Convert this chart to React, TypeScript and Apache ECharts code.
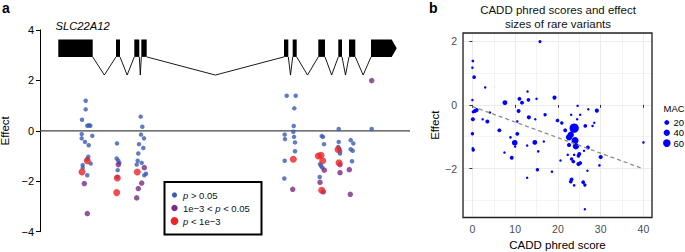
import React, { useEffect, useRef } from "react";
import * as echarts from "echarts";

// ---------- Panel a data ----------
const geneName = "SLC22A12";
// exon spans along the track (last exon drawn as arrow)
const exonSpans: number[][] = [
  [58.3, 92.7], [116, 120], [134.3, 139.3], [141.3, 146.7], [284, 288.3],
  [292.7, 296.7], [318.3, 325], [338.3, 342], [349, 355.3], [371, 396.7],
];
const exonTop = 3.62;
const exonBottom = 2.93;
const intronApex = 2.21;
const arrowLen = 5;
const baselineEffect = 0;

const pHigh: number[][] = [ // p > 0.05
  [85.7, 1.19], [85.7, 0.85], [82, 0.44], [87.3, 0.2], [89, 0.22], [90.3, 0.2],
  [81.7, -0.13], [92.3, -0.2], [81.7, -0.3], [85, -0.44], [88.7, -0.57],
  [88.3, -1.03], [87.3, -1.13], [82.7, -1.36], [82.7, -1.47], [90.7, -1.3], [87.3, -1.76],
  [117, -0.5], [116.7, -1.1], [118.3, -1.19], [119.3, -1.27], [117.7, -1.56], [117.3, -1.83],
  [140.7, 0.56], [142.3, 0.16], [141, -0.15], [144, -0.3], [139, -0.53], [143.3, -0.68],
  [138.3, -0.9], [137.7, -1.19], [141.7, -1.27], [136.7, -1.34], [146, -1.7], [144.3, -1.76],
  [286.7, 1.39], [295.7, 1.39], [294.3, 0.89], [293.7, 0.19], [293.3, -0.04], [284.7, -0.15],
  [285, -0.33], [294, -0.24], [295, -0.46], [295, -0.81], [284.7, -1.19], [284.3, -1.89],
  [321.7, -0.21], [323, -0.24], [324, -0.53], [320, -1.32], [321, -1.39], [322.3, -1.46], [319.7, -1.83],
  [338.7, 0.07], [338.7, -0.44], [338.3, -0.64], [339.3, -0.73], [340, -0.81], [340, -0.9],
  [350.7, -0.37], [353.3, -0.5], [350.7, -0.73], [352.7, -0.79], [352, -1.21],
  [371.7, 0.07],
];
const pMid: number[][] = [ // 1e-3 < p < 0.05
  [84.3, -2.09], [87.3, -3.28], [118.3, -1.34], [144.3, -1.46], [141.7, -2.07],
  [138.3, -2.29], [136.7, -2.66], [292.7, -2.32], [324.3, -1.56], [320, -2.04],
  [323.3, -2.42], [340, -1.34], [340, -1.66], [349.3, -1.54], [350.3, -2.52], [371.7, 1.99],
];
const pLow: number[][] = [ // p < 1e-3
  [87.3, -1.19], [82, -1.63], [117.3, -1.87], [116.7, -2.45], [137.3, -1.63],
  [293.3, -1.13], [318.3, -1.0], [321, -0.97], [322.7, -1.19], [321.7, -2.36],
  [338, -0.74], [339, -1.27],
];

// ---------- Panel b data: [CADD phred, effect, MAC] ----------
const caddVariants: number[][] = [
  [15.8, 1.99, 6], [0.1, 1.38, 4], [0.0, 1.17, 3], [0.4, 0.87, 10], [3.0, 0.55, 3],
  [12.9, 0.42, 3], [0.0, 0.15, 3], [11.0, 0.19, 12], [11.6, 0.07, 12], [13.1, 0.16, 10],
  [15.0, 0.19, 3], [19.2, 0.23, 14], [7.6, 0.07, 20], [0.6, -0.19, 14], [1.0, -0.16, 12],
  [0.2, -0.22, 6], [4.1, -0.24, 3], [10.8, -0.19, 12], [0.1, -0.45, 12], [2.4, -0.45, 3],
  [3.5, -0.52, 12], [10.5, -0.52, 3], [13.2, -0.39, 14], [14.7, -0.45, 3], [17.0, -0.31, 8],
  [19.9, -0.49, 10], [20.9, -0.57, 8], [6.3, -0.8, 12], [0.0, -0.91, 8], [10.5, -0.91, 12],
  [8.9, -1.02, 4], [9.9, -1.19, 30], [10.0, -1.31, 3], [0.1, -1.37, 4], [0.2, -1.42, 8],
  [12.8, -1.28, 3], [14.6, -1.18, 20], [16.7, -1.15, 3], [7.5, -1.5, 3], [15.4, -1.46, 4],
  [9.2, -1.66, 12], [15.2, -2.04, 8], [18.6, -2.1, 3], [12.8, -2.29, 3], [20.6, -1.75, 3],
  [24.6, -0.03, 3], [27.1, -0.14, 3], [29.1, -0.18, 14], [23.1, -0.31, 3], [25.2, -0.31, 3],
  [24.5, -0.45, 3], [28.1, -0.66, 3], [28.5, -0.56, 3], [26.4, -0.66, 10], [23.8, -0.73, 95],
  [21.7, -0.8, 12], [23.0, -0.94, 40], [22.6, -1.02, 40], [24.0, -1.12, 50], [22.6, -1.26, 14],
  [24.2, -1.3, 40], [27.0, -1.34, 12], [26.1, -1.44, 3], [25.0, -1.54, 12], [24.8, -1.6, 10],
  [23.8, -1.57, 3], [22.3, -1.57, 3], [30.0, -1.64, 14], [23.2, -1.7, 8], [23.6, -1.78, 10],
  [24.8, -1.86, 14], [25.2, -1.83, 12], [29.7, -1.9, 4], [26.9, -2.07, 3], [23.2, -2.34, 10],
  [23.0, -2.41, 10], [23.8, -2.53, 4], [25.9, -2.43, 10], [26.3, -2.52, 8], [26.3, -3.28, 3],
  [40.0, -1.18, 3],
];
const regressionIntercept = -0.05;
const regressionSlope = -0.049;
const regressionRange = [0, 40];
const macLegend = [20, 40, 60];

const FONT = "'Liberation Sans', Arial, Helvetica, sans-serif";
const macSize = (m: number) => 1 + 0.85 * Math.sqrt(m);
const minus = (v: number) => String(v).replace("-", "\u2212");

export default function App() {
  const ref = useRef<HTMLDivElement>(null);
  useEffect(() => {
    document.body.style.margin = "0";
    const chart = echarts.init(ref.current!, undefined, { renderer: "svg" });
    const introns = exonSpans.slice(0, -1).map((e, i) => [e[1], exonSpans[i + 1][0]]);
    const exonData = exonSpans.map((e, i) => [e[0], e[1], i === exonSpans.length - 1 ? 1 : 0]);
    const regLine = regressionRange.map((x) => [x, regressionIntercept + regressionSlope * x]);

    const macGraphics: any[] = [
      { type: "text", x: 663.5, y: 108.5, style: { text: "MAC", fontSize: 9.5, fontFamily: FONT, fill: "#000", verticalAlign: "middle" } },
    ];
    macLegend.forEach((m, i) => {
      const cy = 122.5 + i * 10.3;
      macGraphics.push({ type: "circle", shape: { cx: 666.8, cy, r: macSize(m) / 2 }, style: { fill: "#0000ff" } });
      macGraphics.push({ type: "text", x: 673.5, y: cy, style: { text: String(m), fontSize: 9.5, fontFamily: FONT, fill: "#000", verticalAlign: "middle" } });
    });

    const legendRows = [
      { color: "#3b5bb5", r: 2.6, text: "{i|p} > 0.05" },
      { color: "#7b2a85", r: 3.2, text: "1e\u22123 < {i|p} < 0.05" },
      { color: "#ee2428", r: 3.9, text: "{i|p} < 1e\u22123" },
    ];
    const legendGraphics: any[] = [
      { type: "rect", shape: { x: 164.5, y: 182, width: 97, height: 52.5 }, style: { fill: "#fff", stroke: "#000", lineWidth: 2 }, z: 10 },
    ];
    legendRows.forEach((row, i) => {
      const cy = 195 + i * 13;
      legendGraphics.push({ type: "circle", shape: { cx: 174.5, cy, r: row.r }, style: { fill: row.color }, z: 11 });
      legendGraphics.push({
        type: "text", x: 183, y: cy, z: 11,
        style: { text: row.text, fontSize: 9.5, fontFamily: FONT, fill: "#111", verticalAlign: "middle", rich: { i: { fontStyle: "italic", fontSize: 9.5, fontFamily: FONT } } },
      });
    });

    chart.setOption({
      animation: false,
      textStyle: { fontFamily: FONT },
      grid: [
        { left: 40, top: 29.9, width: 370, height: 201.8, outerBoundsMode: "none", containLabel: false },
        { left: 463, top: 33, width: 189, height: 184.5, show: true, borderColor: "#222", borderWidth: 1.3, backgroundColor: "transparent", z: 3, outerBoundsMode: "none", containLabel: false },
      ],
      xAxis: [
        { type: "value", gridIndex: 0, min: 40, max: 410, show: false },
        {
          type: "value", gridIndex: 1, min: -2.2, max: 42, splitNumber: 4,
          name: "CADD phred score", nameLocation: "middle", nameGap: 21,
          nameTextStyle: { fontSize: 11.5, color: "#000", fontFamily: FONT },
          axisLine: { show: false },
          axisTick: { show: true, length: 3, lineStyle: { color: "#333" } },
          axisLabel: { fontSize: 10.5, color: "#4d4d4d", margin: 6, showMinLabel: false, showMaxLabel: false, fontFamily: FONT },
          splitLine: { show: true, lineStyle: { color: "#ebebeb", width: 1 } },
          minorSplitLine: { show: true, lineStyle: { color: "#f0f0f0", width: 0.8 } },
          minorTick: { show: false, splitNumber: 2 },
        },
      ],
      yAxis: [
        {
          type: "value", gridIndex: 0, min: -4, max: 4, interval: 2,
          name: "Effect", nameLocation: "middle", nameGap: 28,
          nameTextStyle: { fontSize: 11.5, color: "#000", fontFamily: FONT },
          axisLine: { show: true, lineStyle: { color: "#000", width: 1 } },
          axisTick: { show: true, length: 4, lineStyle: { color: "#000" } },
          axisLabel: { fontSize: 11, color: "#000", margin: 6, formatter: (v: number) => minus(v), fontFamily: FONT },
          splitLine: { show: false },
        },
        {
          type: "value", gridIndex: 1, min: -3.54, max: 2.26, splitNumber: 3,
          name: "Effect", nameLocation: "middle", nameGap: 21,
          nameTextStyle: { fontSize: 11.5, color: "#000", fontFamily: FONT },
          axisLine: { show: false },
          axisTick: { show: true, length: 3, lineStyle: { color: "#333" } },
          axisLabel: { fontSize: 10.5, color: "#4d4d4d", margin: 6, showMinLabel: false, showMaxLabel: false, formatter: (v: number) => minus(v), fontFamily: FONT },
          splitLine: { show: true, lineStyle: { color: "#ebebeb", width: 1 } },
          minorSplitLine: { show: true, lineStyle: { color: "#f0f0f0", width: 0.8 } },
          minorTick: { show: false, splitNumber: 2 },
        },
      ],
      series: [
        {
          type: "line", xAxisIndex: 0, yAxisIndex: 0, symbol: "none", silent: true,
          data: [[40, baselineEffect], [410, baselineEffect]],
          lineStyle: { color: "#444", width: 1.2 }, z: 1,
        },
        {
          type: "custom", xAxisIndex: 0, yAxisIndex: 0, clip: false, silent: true,
          data: introns,
          renderItem: (_p: any, api: any) => {
            const a = api.coord([api.value(0), exonBottom]);
            const m = api.coord([(api.value(0) + api.value(1)) / 2, intronApex]);
            const b = api.coord([api.value(1), exonBottom]);
            return { type: "polyline", shape: { points: [a, m, b] }, style: { stroke: "#000", lineWidth: 0.9, fill: "none" } };
          },
        },
        {
          type: "custom", xAxisIndex: 0, yAxisIndex: 0, clip: false, silent: true,
          data: exonData,
          renderItem: (_p: any, api: any) => {
            const s = api.value(0), e = api.value(1), arrow = api.value(2);
            const tl = api.coord([s, exonTop]);
            const br = api.coord([e, exonBottom]);
            if (arrow) {
              const k = api.coord([e - arrowLen, exonTop])[0];
              const mid = (tl[1] + br[1]) / 2;
              return { type: "polygon", shape: { points: [[tl[0], tl[1]], [k, tl[1]], [br[0], mid], [k, br[1]], [tl[0], br[1]]] }, style: { fill: "#000" } };
            }
            return { type: "rect", shape: { x: tl[0], y: tl[1], width: br[0] - tl[0], height: br[1] - tl[1] }, style: { fill: "#000" } };
          },
        },
        { type: "scatter", xAxisIndex: 0, yAxisIndex: 0, data: pHigh, symbolSize: 4.5, itemStyle: { color: "#3b5bb5" }, z: 3 },
        { type: "scatter", xAxisIndex: 0, yAxisIndex: 0, data: pMid, symbolSize: 5.5, itemStyle: { color: "#7b2a85" }, z: 4 },
        { type: "scatter", xAxisIndex: 0, yAxisIndex: 0, data: pLow, symbolSize: 7, itemStyle: { color: "#ee2428" }, z: 5 },
        {
          type: "scatter", xAxisIndex: 1, yAxisIndex: 1, data: caddVariants,
          symbolSize: (v: number[]) => macSize(v[2]), itemStyle: { color: "#0000ff", opacity: 1 }, z: 3,
        },
        {
          type: "line", xAxisIndex: 1, yAxisIndex: 1, data: regLine, symbol: "none", silent: true,
          lineStyle: { color: "#8c8c8c", width: 1.3, type: [4, 3] }, z: 4,
        },
      ],
      graphic: [
        { type: "text", left: 2, top: 1, style: { text: "a", fontSize: 14, fontWeight: "bold", fontFamily: FONT, fill: "#000" } },
        { type: "text", x: 55.5, y: 26.2, style: { text: geneName, fontSize: 11.2, fontStyle: "italic", fontFamily: FONT, fill: "#000", verticalAlign: "middle" } },
        { type: "text", left: 429, top: 1, style: { text: "b", fontSize: 14, fontWeight: "bold", fontFamily: FONT, fill: "#000" } },
        {
          type: "text", x: 558, y: 3,
          style: { text: "CADD phred scores and effect\nsizes of rare variants", fontSize: 11.5, lineHeight: 14, fontFamily: FONT, fill: "#111", align: "center" },
        },
        ...legendGraphics,
        ...macGraphics,
      ],
    });
    return () => chart.dispose();
  }, []);
  return <div ref={ref} style={{ width: 685, height: 252 }} />;
}
